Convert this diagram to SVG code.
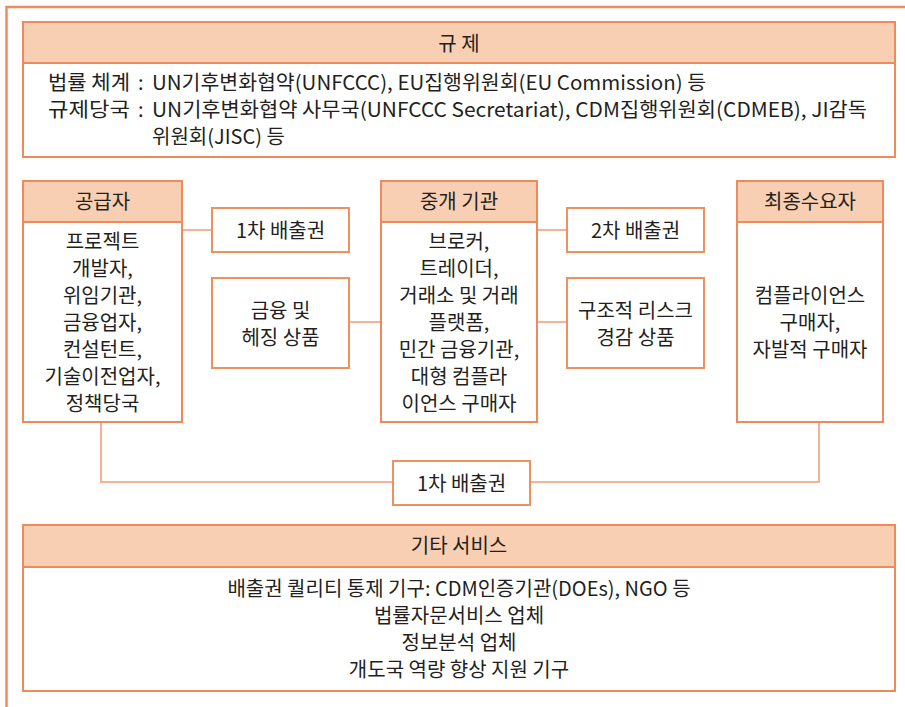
<svg xmlns="http://www.w3.org/2000/svg" width="905" height="707" viewBox="0 0 905 707">
<style>
.box{fill:#ffffff;stroke:#ee8a5b;stroke-width:2}
.hdr{fill:#f9cfb3;stroke:#ee8a5b;stroke-width:2}
.sm{fill:#ffffff;stroke:#ef915f;stroke-width:2}
.conn{stroke:#f5b394;stroke-width:2;fill:none}
.frame{stroke:#ef8c5e;stroke-width:2.5;fill:none}
.t{font-family:"Noto Sans CJK KR","Noto Sans",sans-serif;font-size:20px;fill:#231f20;text-anchor:middle}
.l{font-family:"Noto Sans CJK KR","Noto Sans",sans-serif;font-size:20px;fill:#231f20;text-anchor:start}
</style>
<rect width="905" height="707" fill="#ffffff"/>
<path class="frame" d="M6.5,707 V7 H905"/>

<g id="connectors">
<path class="conn" d="M182,230 H212"/>
<path class="conn" d="M349,322 H381"/>
<path class="conn" d="M537,230 H567"/>
<path class="conn" d="M537,322 H567"/>
<path class="conn" d="M101,422 V482 H393"/>
<path class="conn" d="M530,482 H819 V422"/>
</g>

<g id="regulation">
<rect class="box" x="23" y="22" width="872" height="135"/>
<rect class="hdr" x="23" y="22" width="872" height="41"/>
<text class="t" x="459" y="51">규 제</text>
<text class="l" x="48" y="90"><tspan textLength="82" lengthAdjust="spacingAndGlyphs">법률 체계</tspan><tspan x="138">:</tspan><tspan x="152" textLength="554" lengthAdjust="spacingAndGlyphs">UN기후변화협약(UNFCCC), EU집행위원회(EU Commission) 등</tspan></text>
<text class="l" x="48" y="117"><tspan textLength="82" lengthAdjust="spacingAndGlyphs">규제당국</tspan><tspan x="138">:</tspan><tspan x="152" textLength="715" lengthAdjust="spacingAndGlyphs">UN기후변화협약 사무국(UNFCCC Secretariat), CDM집행위원회(CDMEB), JI감독</tspan></text>
<text class="l" x="152" y="144">위원회(JISC) 등</text>
</g>

<g id="supplier">
<rect class="box" x="23" y="181" width="159" height="241"/>
<rect class="hdr" x="23" y="181" width="159" height="41"/>
<text class="t" x="102.5" y="209">공급자</text>
<text class="t" x="102.5" y="249">프로젝트</text>
<text class="t" x="102.5" y="276">개발자,</text>
<text class="t" x="102.5" y="303">위임기관,</text>
<text class="t" x="102.5" y="330">금융업자,</text>
<text class="t" x="102.5" y="357">컨설턴트,</text>
<text class="t" x="102.5" y="384">기술이전업자,</text>
<text class="t" x="102.5" y="411">정책당국</text>
</g>

<g id="primary1">
<rect class="sm" x="212" y="208" width="137" height="44"/>
<text class="t" x="280.5" y="238">1차 배출권</text>
</g>

<g id="finance">
<rect class="sm" x="212" y="278" width="137" height="90"/>
<text class="t" x="280.5" y="318">금융 및</text>
<text class="t" x="280.5" y="345">헤징 상품</text>
</g>

<g id="intermediary">
<rect class="box" x="381" y="181" width="156" height="241"/>
<rect class="hdr" x="381" y="181" width="156" height="41"/>
<text class="t" x="459" y="209">중개 기관</text>
<text class="t" x="459" y="249">브로커,</text>
<text class="t" x="459" y="276">트레이더,</text>
<text class="t" x="459" y="303">거래소 및 거래</text>
<text class="t" x="459" y="330">플랫폼,</text>
<text class="t" x="459" y="357">민간 금융기관,</text>
<text class="t" x="459" y="384">대형 컴플라</text>
<text class="t" x="459" y="411">이언스 구매자</text>
</g>

<g id="secondary">
<rect class="sm" x="567" y="208" width="137" height="44"/>
<text class="t" x="635.5" y="238">2차 배출권</text>
</g>

<g id="structured">
<rect class="sm" x="567" y="278" width="137" height="90"/>
<text class="t" x="635.5" y="318">구조적 리스크</text>
<text class="t" x="635.5" y="345">경감 상품</text>
</g>

<g id="enduser">
<rect class="box" x="737" y="181" width="146" height="241"/>
<rect class="hdr" x="737" y="181" width="146" height="41"/>
<text class="t" x="810" y="209">최종수요자</text>
<text class="t" x="810" y="303">컴플라이언스</text>
<text class="t" x="810" y="330">구매자,</text>
<text class="t" x="810" y="357">자발적 구매자</text>
</g>

<g id="primary2">
<rect class="sm" x="393" y="461" width="137" height="44"/>
<text class="t" x="461.5" y="491">1차 배출권</text>
</g>

<g id="services">
<rect class="box" x="23" y="525" width="872" height="166"/>
<rect class="hdr" x="23" y="525" width="872" height="42"/>
<text class="t" x="459" y="553">기타 서비스</text>
<text class="t" x="459" y="596">배출권 퀄리티 통제 기구: CDM인증기관(DOEs), NGO 등</text>
<text class="t" x="459" y="623">법률자문서비스 업체</text>
<text class="t" x="459" y="650">정보분석 업체</text>
<text class="t" x="459" y="677">개도국 역량 향상 지원 기구</text>
</g>
</svg>
